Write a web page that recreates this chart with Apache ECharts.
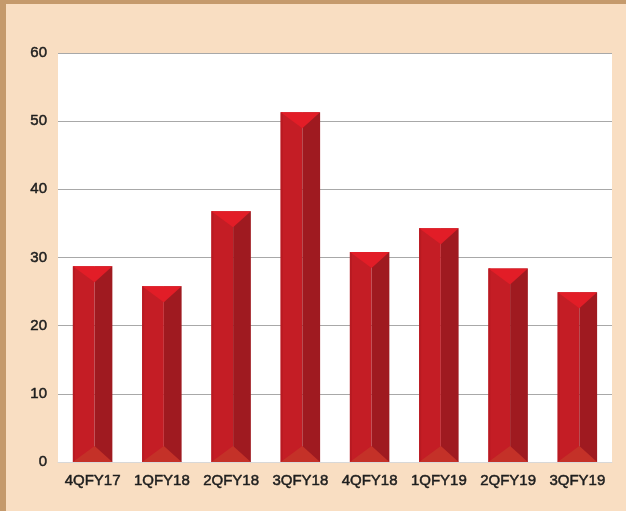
<!DOCTYPE html>
<html>
<head>
<meta charset="utf-8">
<script src="https://cdn.jsdelivr.net/npm/echarts@6/dist/echarts.min.js"></script>
<style>
  html, body { margin: 0; padding: 0; background: #f9dec2; }
  #chart { width: 626px; height: 511px; }
</style>
</head>
<body>
<div id="chart"></div>
<script>
// Quarterly values
const quarters = ['4QFY17', '1QFY18', '2QFY18', '3QFY18', '4QFY18', '1QFY19', '2QFY19', '3QFY19'];
const values = [28.7, 25.8, 36.8, 51.3, 30.8, 34.3, 28.4, 24.9];
const yTicks = { min: 0, max: 60, interval: 10 };

// Bevelled bar: light left face, darker right face, pointed top and a soft bottom facet
function renderBevelBar(params, api) {
  const idx = api.value(0);
  const val = api.value(1);
  const top = api.coord([idx, val]);
  const base = api.coord([idx, 0]);
  const w = api.size([1, 0])[0] * 0.57;
  const x0 = top[0] - w / 2;
  const x1 = top[0] + w / 2;
  const xs = x0 + w * 0.55;
  const yTop = top[1];
  const yBot = base[1];
  const tip = Math.min(16, (yBot - yTop) / 3);
  return {
    type: 'group',
    children: [
      { type: 'rect', shape: { x: x0, y: yTop, width: xs - x0, height: yBot - yTop }, style: { fill: '#c41d25' } },
      { type: 'rect', shape: { x: xs, y: yTop, width: x1 - xs, height: yBot - yTop }, style: { fill: '#9f1a20' } },
      { type: 'rect', shape: { x: x0, y: yTop, width: 2, height: yBot - yTop }, style: { fill: '#b81a22' } },
      { type: 'polygon', shape: { points: [[x0, yBot], [xs, yBot - tip], [x1, yBot]] }, style: { fill: '#c43128' } },
      { type: 'polygon', shape: { points: [[x0, yTop], [x1, yTop], [xs, yTop + tip]] }, style: { fill: '#e21d27' } }
    ]
  };
}

const labelFont = {
  color: '#1e1e1e', fontFamily: 'Liberation Sans, Arial, sans-serif', fontSize: 15,
  textBorderColor: '#1e1e1e', textBorderWidth: 0.5
};

const chart = echarts.init(document.getElementById('chart'));
chart.setOption({
  backgroundColor: '#f9dec2',
  animation: false,
  graphic: [
    { type: 'rect', left: 0, top: 0, shape: { width: 626, height: 4 }, style: { fill: '#c59a6c' } },
    { type: 'rect', left: 0, top: 0, shape: { width: 6, height: 511 }, style: { fill: '#c59a6c' } }
  ],
  grid: {
    left: 58, right: 14, top: 53, bottom: 49,
    show: true, backgroundColor: '#ffffff', borderWidth: 0
  },
  xAxis: {
    type: 'category',
    data: quarters,
    axisTick: { show: false },
    axisLine: { show: true, lineStyle: { color: '#d8d8d8', width: 1 } },
    axisLabel: Object.assign({ margin: 11, interval: 0, hideOverlap: false }, labelFont)
  },
  yAxis: {
    type: 'value',
    min: yTicks.min, max: yTicks.max, interval: yTicks.interval,
    axisLine: { show: false },
    axisTick: { show: false },
    splitLine: { lineStyle: { color: '#a8a8a8', width: 1 } },
    axisLabel: Object.assign({ margin: 11 }, labelFont)
  },
  series: [{
    type: 'custom',
    renderItem: renderBevelBar,
    encode: { x: 0, y: 1 },
    data: values.map((v, i) => [i, v])
  }]
});
</script>
</body>
</html>
